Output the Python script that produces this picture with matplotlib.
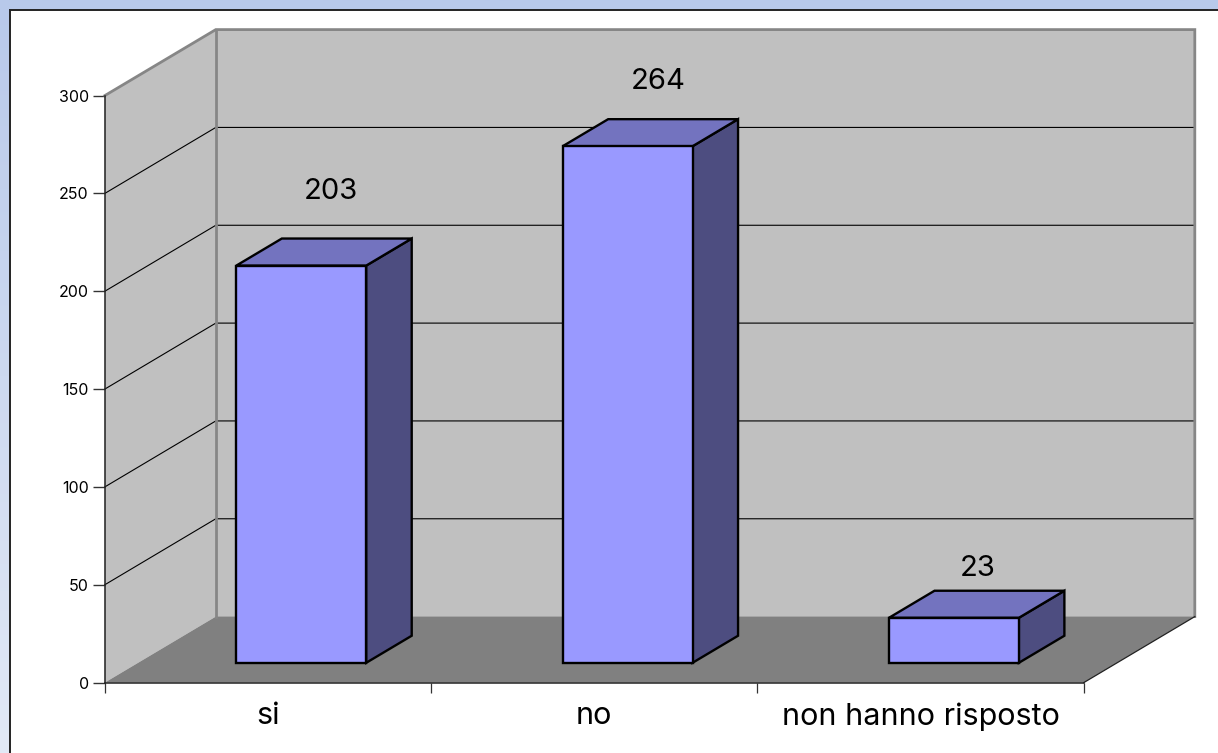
import numpy as np
import matplotlib
matplotlib.use("Agg")
import matplotlib.pyplot as plt
from matplotlib.patches import Polygon, Rectangle

plt.rcParams["font.family"] = ["Inter", "Liberation Sans", "DejaVu Sans"]

# -----------------------------
# Data
# -----------------------------
categories = ["si", "no", "non hanno risposto"]
values = [203, 264, 23]
y_ticks = [0, 50, 100, 150, 200, 250, 300]

# -----------------------------
# Fake 3D geometry (data units)
# -----------------------------
W, H = 1218, 753
depth_x = 111 / 979 * 3
depth_y = 66 / 587 * 300
bar_width = 0.398
front, back = 0.30, 0.71


def proj(x, v, d=0.0):
    return (x + d * depth_x, v + d * depth_y)


fig = plt.figure(figsize=(W / 100, H / 100), dpi=100, facecolor="white")

# page background
bg = fig.add_axes([0, 0, 1, 1])
grad = np.linspace(0, 1, 256).reshape(-1, 1)
cmap = matplotlib.colors.LinearSegmentedColormap.from_list("page", ["#b8c9ea", "#e2e9f6"])
bg.imshow(grad, extent=[0, W, H, 0], aspect="auto", cmap=cmap)
bg.add_patch(Rectangle((9.5, 9.5), W + 20, H + 20, facecolor="white", edgecolor="#222222", linewidth=1.4))
bg.set_xlim(0, W)
bg.set_ylim(H, 0)
bg.axis("off")

# chart axes: front plane of the box
ax = fig.add_axes([104.8 / W, (H - 682.6) / H, 979 / W, 587 / H])
ax.patch.set_visible(False)
ax.set_xlim(0, 3)
ax.set_ylim(0, 300)

top = y_ticks[-1]
n = len(categories)

# walls and floor
ax.add_patch(Polygon([proj(0, 0), proj(0, 0, 1), proj(0, top, 1), proj(0, top)],
                     facecolor="#c0c0c0", edgecolor="none", clip_on=False, zorder=1))
ax.add_patch(Polygon([proj(0, 0, 1), proj(n, 0, 1), proj(n, top, 1), proj(0, top, 1)],
                     facecolor="#c0c0c0", edgecolor="none", clip_on=False, zorder=1))
ax.add_patch(Polygon([proj(0, 0), proj(n, 0), proj(n, 0, 1), proj(0, 0, 1)],
                     facecolor="#808080", edgecolor="none", clip_on=False, zorder=1.2))

# gridlines
for v in y_ticks[1:-1]:
    pts = np.array([proj(0, v), proj(0, v, 1), proj(n, v, 1)])
    ax.plot(pts[:, 0], pts[:, 1], color="black", linewidth=0.8, clip_on=False, zorder=1.5)

# wall border
pts = np.array([proj(0, top), proj(0, top, 1), proj(n, top, 1), proj(n, 0, 1)])
ax.plot(pts[:, 0], pts[:, 1], color="#868686", linewidth=2.0, clip_on=False, zorder=1.6,
        solid_joinstyle="miter")
pts = np.array([proj(0, top, 1), proj(0, 0, 1)])
ax.plot(pts[:, 0], pts[:, 1], color="#868686", linewidth=2.0, clip_on=False, zorder=1.6)
pts = np.array([proj(n, 0), proj(n, 0, 1)])
ax.plot(pts[:, 0], pts[:, 1], color="#222222", linewidth=0.9, clip_on=False, zorder=1.6)

# bars
centers = np.arange(n) + 0.5
x0 = centers + front * depth_x
bars = ax.bar(x0, values, width=bar_width, bottom=front * depth_y,
              facecolor="#9999ff", edgecolor="black", linewidth=1.7, clip_on=False, zorder=3)

for c, val in zip(centers, values):
    l, r = c - bar_width / 2, c + bar_width / 2
    side = [proj(r, 0, front), proj(r, 0, back), proj(r, val, back), proj(r, val, front)]
    cap = [proj(l, val, front), proj(r, val, front), proj(r, val, back), proj(l, val, back)]
    ax.add_patch(Polygon(side, facecolor="#4d4d80", edgecolor="black", linewidth=1.7,
                         joinstyle="miter", clip_on=False, zorder=2.8))
    ax.add_patch(Polygon(cap, facecolor="#7373bf", edgecolor="black", linewidth=1.7,
                         joinstyle="miter", clip_on=False, zorder=2.8))

# value labels
label_shift = [(30, 74), (31, 65), (24, 49)]  # px from top centre of the front face
for c, val, shift in zip(x0, values, label_shift):
    ax.annotate(str(val), xy=(c, val + front * depth_y), xytext=(shift[0] * 0.72, shift[1] * 0.72),
                textcoords="offset points", ha="center", va="center", fontsize=21,
                color="black", zorder=5, annotation_clip=False)

# axes styling
ax.spines["top"].set_visible(False)
ax.spines["right"].set_visible(False)
for s in ["left", "bottom"]:
    ax.spines[s].set_color("#222222")
    ax.spines[s].set_linewidth(1.1)
    ax.spines[s].set_zorder(2)

ax.set_yticks(y_ticks)
ax.tick_params(axis="y", length=9, width=1.0, color="#333333", labelsize=11.5, pad=2.5)
ax.set_xticks(np.arange(n + 1))
ax.set_xticklabels([])
ax.set_xticks(centers, minor=True)
ax.set_xticklabels(categories, minor=True, fontsize=22)
ax.tick_params(axis="x", which="major", length=7.5, width=0.9, color="#333333")
ax.tick_params(axis="x", which="minor", length=0, pad=14)

fig.savefig("out.png", dpi=100)
